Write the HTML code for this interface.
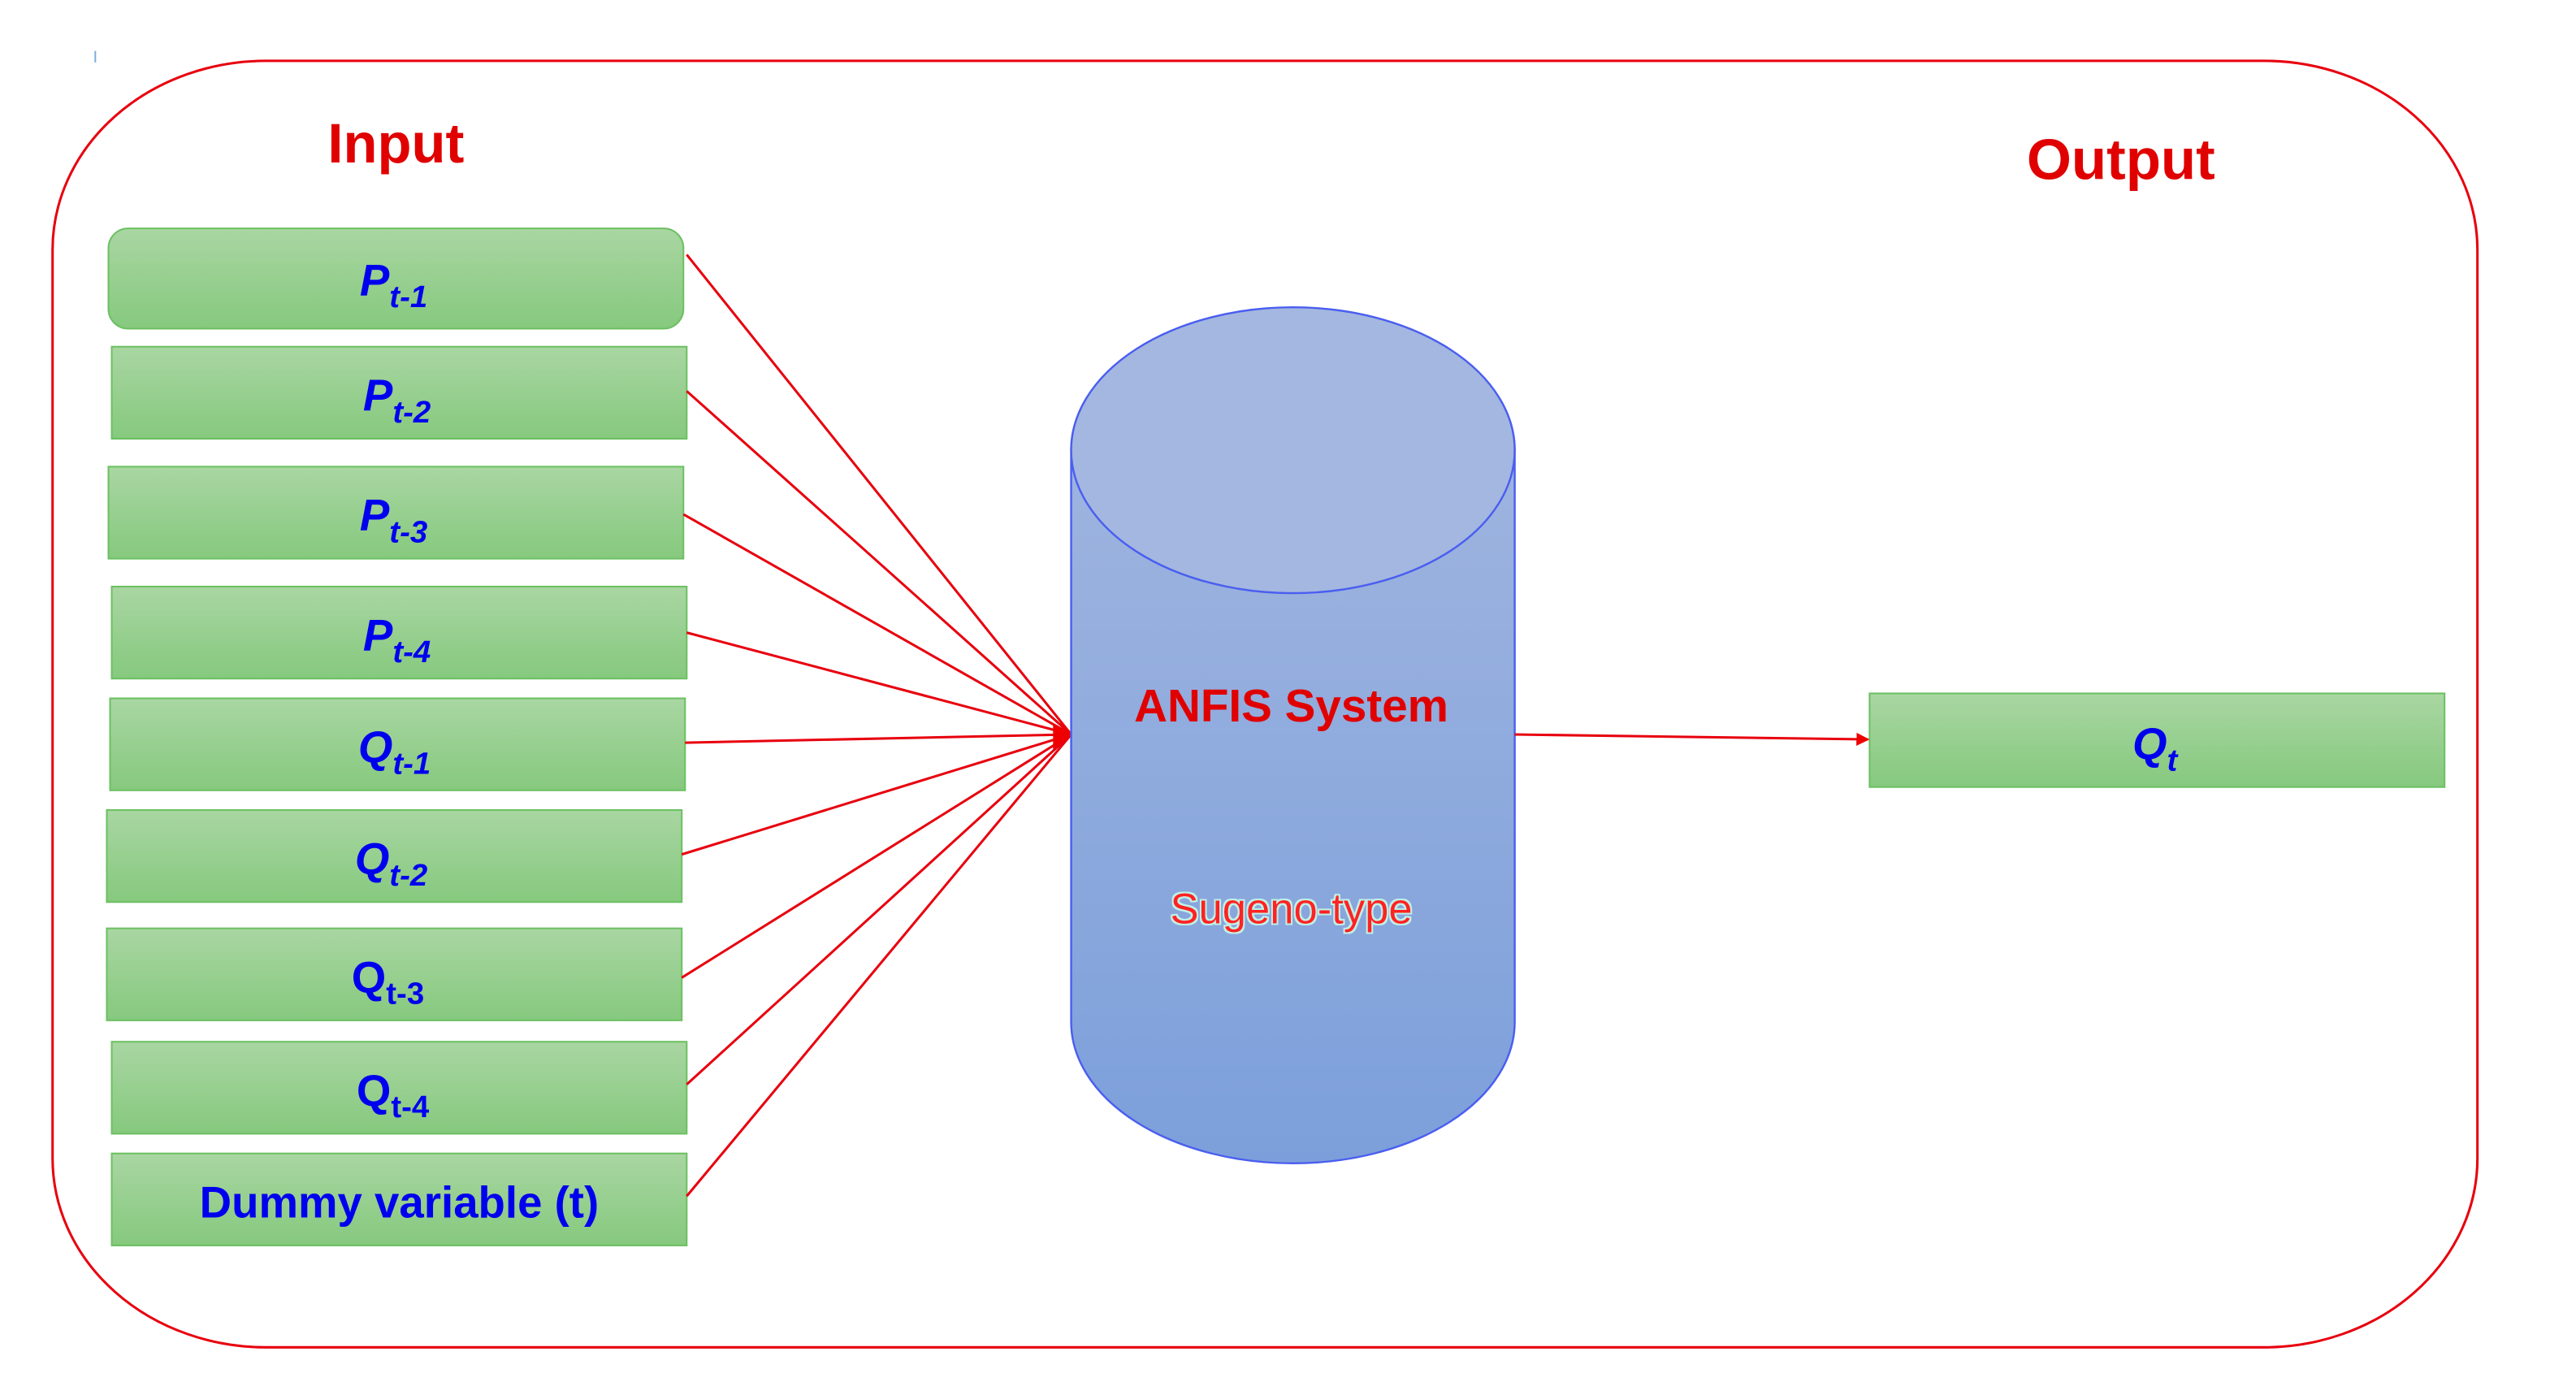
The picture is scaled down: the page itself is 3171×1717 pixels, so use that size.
<!DOCTYPE html>
<html><head><meta charset="utf-8"><style>
html,body{margin:0;padding:0;background:#fff;}
svg{display:block;}
.lbl{font-family:"Liberation Sans",sans-serif;font-weight:bold;fill:#0000ee;font-size:27px;}
</style></head><body>
<svg width="3171" height="1717" viewBox="0 0 1568 849" xmlns="http://www.w3.org/2000/svg">
<defs>
<linearGradient id="g" x1="0" y1="0" x2="0" y2="1"><stop offset="0" stop-color="#a9d6a2"/><stop offset="1" stop-color="#86c97e"/></linearGradient>
<linearGradient id="b" x1="0" y1="0" x2="0" y2="1"><stop offset="0" stop-color="#a5b8e0"/><stop offset="1" stop-color="#7c9fdb"/></linearGradient>
<marker id="ah" markerWidth="8" markerHeight="8" refX="7" refY="4" orient="auto" markerUnits="userSpaceOnUse"><path d="M0,0 L8,4 L0,8 z" fill="#e00"/></marker>
<filter id="glow"><feMorphology operator="dilate" radius="1" in="SourceAlpha" result="d"/><feFlood flood-color="#bff0e6"/><feComposite in2="d" operator="in" result="o"/><feMerge><feMergeNode in="o"/><feMergeNode in="SourceGraphic"/></feMerge></filter>
</defs>
<line x1="58" y1="31" x2="58" y2="38" stroke="#7ab0e0" stroke-width="1"/>
<rect x="32" y="37" width="1476" height="783" rx="130" ry="115" fill="none" stroke="#e8000e" stroke-width="1.5"/>
<text x="241" y="99" text-anchor="middle" font-family="Liberation Sans,sans-serif" font-weight="bold" font-size="34" fill="#e00000">Input</text>
<text x="1291" y="109" text-anchor="middle" font-family="Liberation Sans,sans-serif" font-weight="bold" font-size="35" fill="#e00000">Output</text>
<g stroke="#6cc062" stroke-width="1" fill="url(#g)">
<rect x="66" y="139" width="350" height="61" rx="12"/>
<rect x="68" y="211" width="350" height="56"/>
<rect x="66" y="284" width="350" height="56"/>
<rect x="68" y="357" width="350" height="56"/>
<rect x="67" y="425" width="350" height="56"/>
<rect x="65" y="493" width="350" height="56"/>
<rect x="65" y="565" width="350" height="56"/>
<rect x="68" y="634" width="350" height="56"/>
<rect x="68" y="702" width="350" height="56"/>
<rect x="1138" y="422" width="350" height="57"/>
</g>
<g class="lbl" font-style="italic">
<text x="219" y="180" class="lbl">P<tspan font-size="19" dy="7">t-1</tspan></text>
<text x="221" y="250" class="lbl">P<tspan font-size="19" dy="7">t-2</tspan></text>
<text x="219" y="323" class="lbl">P<tspan font-size="19" dy="7">t-3</tspan></text>
<text x="221" y="396" class="lbl">P<tspan font-size="19" dy="7">t-4</tspan></text>
<text x="218" y="464" class="lbl">Q<tspan font-size="19" dy="7">t-1</tspan></text>
<text x="216" y="532" class="lbl">Q<tspan font-size="19" dy="7">t-2</tspan></text>
<text x="1298" y="462" class="lbl">Q<tspan font-size="19" dy="7">t</tspan></text>
</g>
<text x="214" y="604" class="lbl">Q<tspan font-size="19" dy="7">t-3</tspan></text>
<text x="217" y="673" class="lbl">Q<tspan font-size="19" dy="7">t-4</tspan></text>
<text x="243" y="741" class="lbl" text-anchor="middle" font-size="29">Dummy variable (t)</text>
<g stroke="#e8000e" stroke-width="1.5" fill="none">
<line x1="418" y1="155" x2="652" y2="447"/>
<line x1="418" y1="238" x2="652" y2="447"/>
<line x1="416" y1="313" x2="652" y2="447"/>
<line x1="418" y1="385" x2="652" y2="447"/>
<line x1="417" y1="452" x2="652" y2="447"/>
<line x1="415" y1="520" x2="652" y2="447"/>
<line x1="415" y1="595" x2="652" y2="447"/>
<line x1="418" y1="660" x2="652" y2="447"/>
<line x1="418" y1="728" x2="652" y2="447"/>
</g>
<path d="M641,440 L653,447 L641,456 z" fill="#e00"/>
<path d="M652,274 L652,622 A135,86 0 0 0 922,622 L922,274 A135,86 0 0 0 652,274 z" fill="url(#b)" stroke="#4a5ef0" stroke-width="1.2"/>
<ellipse cx="787" cy="274" rx="135" ry="87" fill="#a3b7e0" stroke="#4a5ef0" stroke-width="1.2"/>
<text x="786" y="439" text-anchor="middle" font-family="Liberation Sans,sans-serif" font-weight="bold" font-size="28" fill="#e00000">ANFIS System</text>
<text x="786" y="562" text-anchor="middle" font-family="Liberation Sans,sans-serif" font-size="26" fill="#ff2020" filter="url(#glow)">Sugeno-type</text>
<line x1="922" y1="447" x2="1137" y2="450" stroke="#e8000e" stroke-width="1.5" marker-end="url(#ah)"/>
</svg>
</body></html>
